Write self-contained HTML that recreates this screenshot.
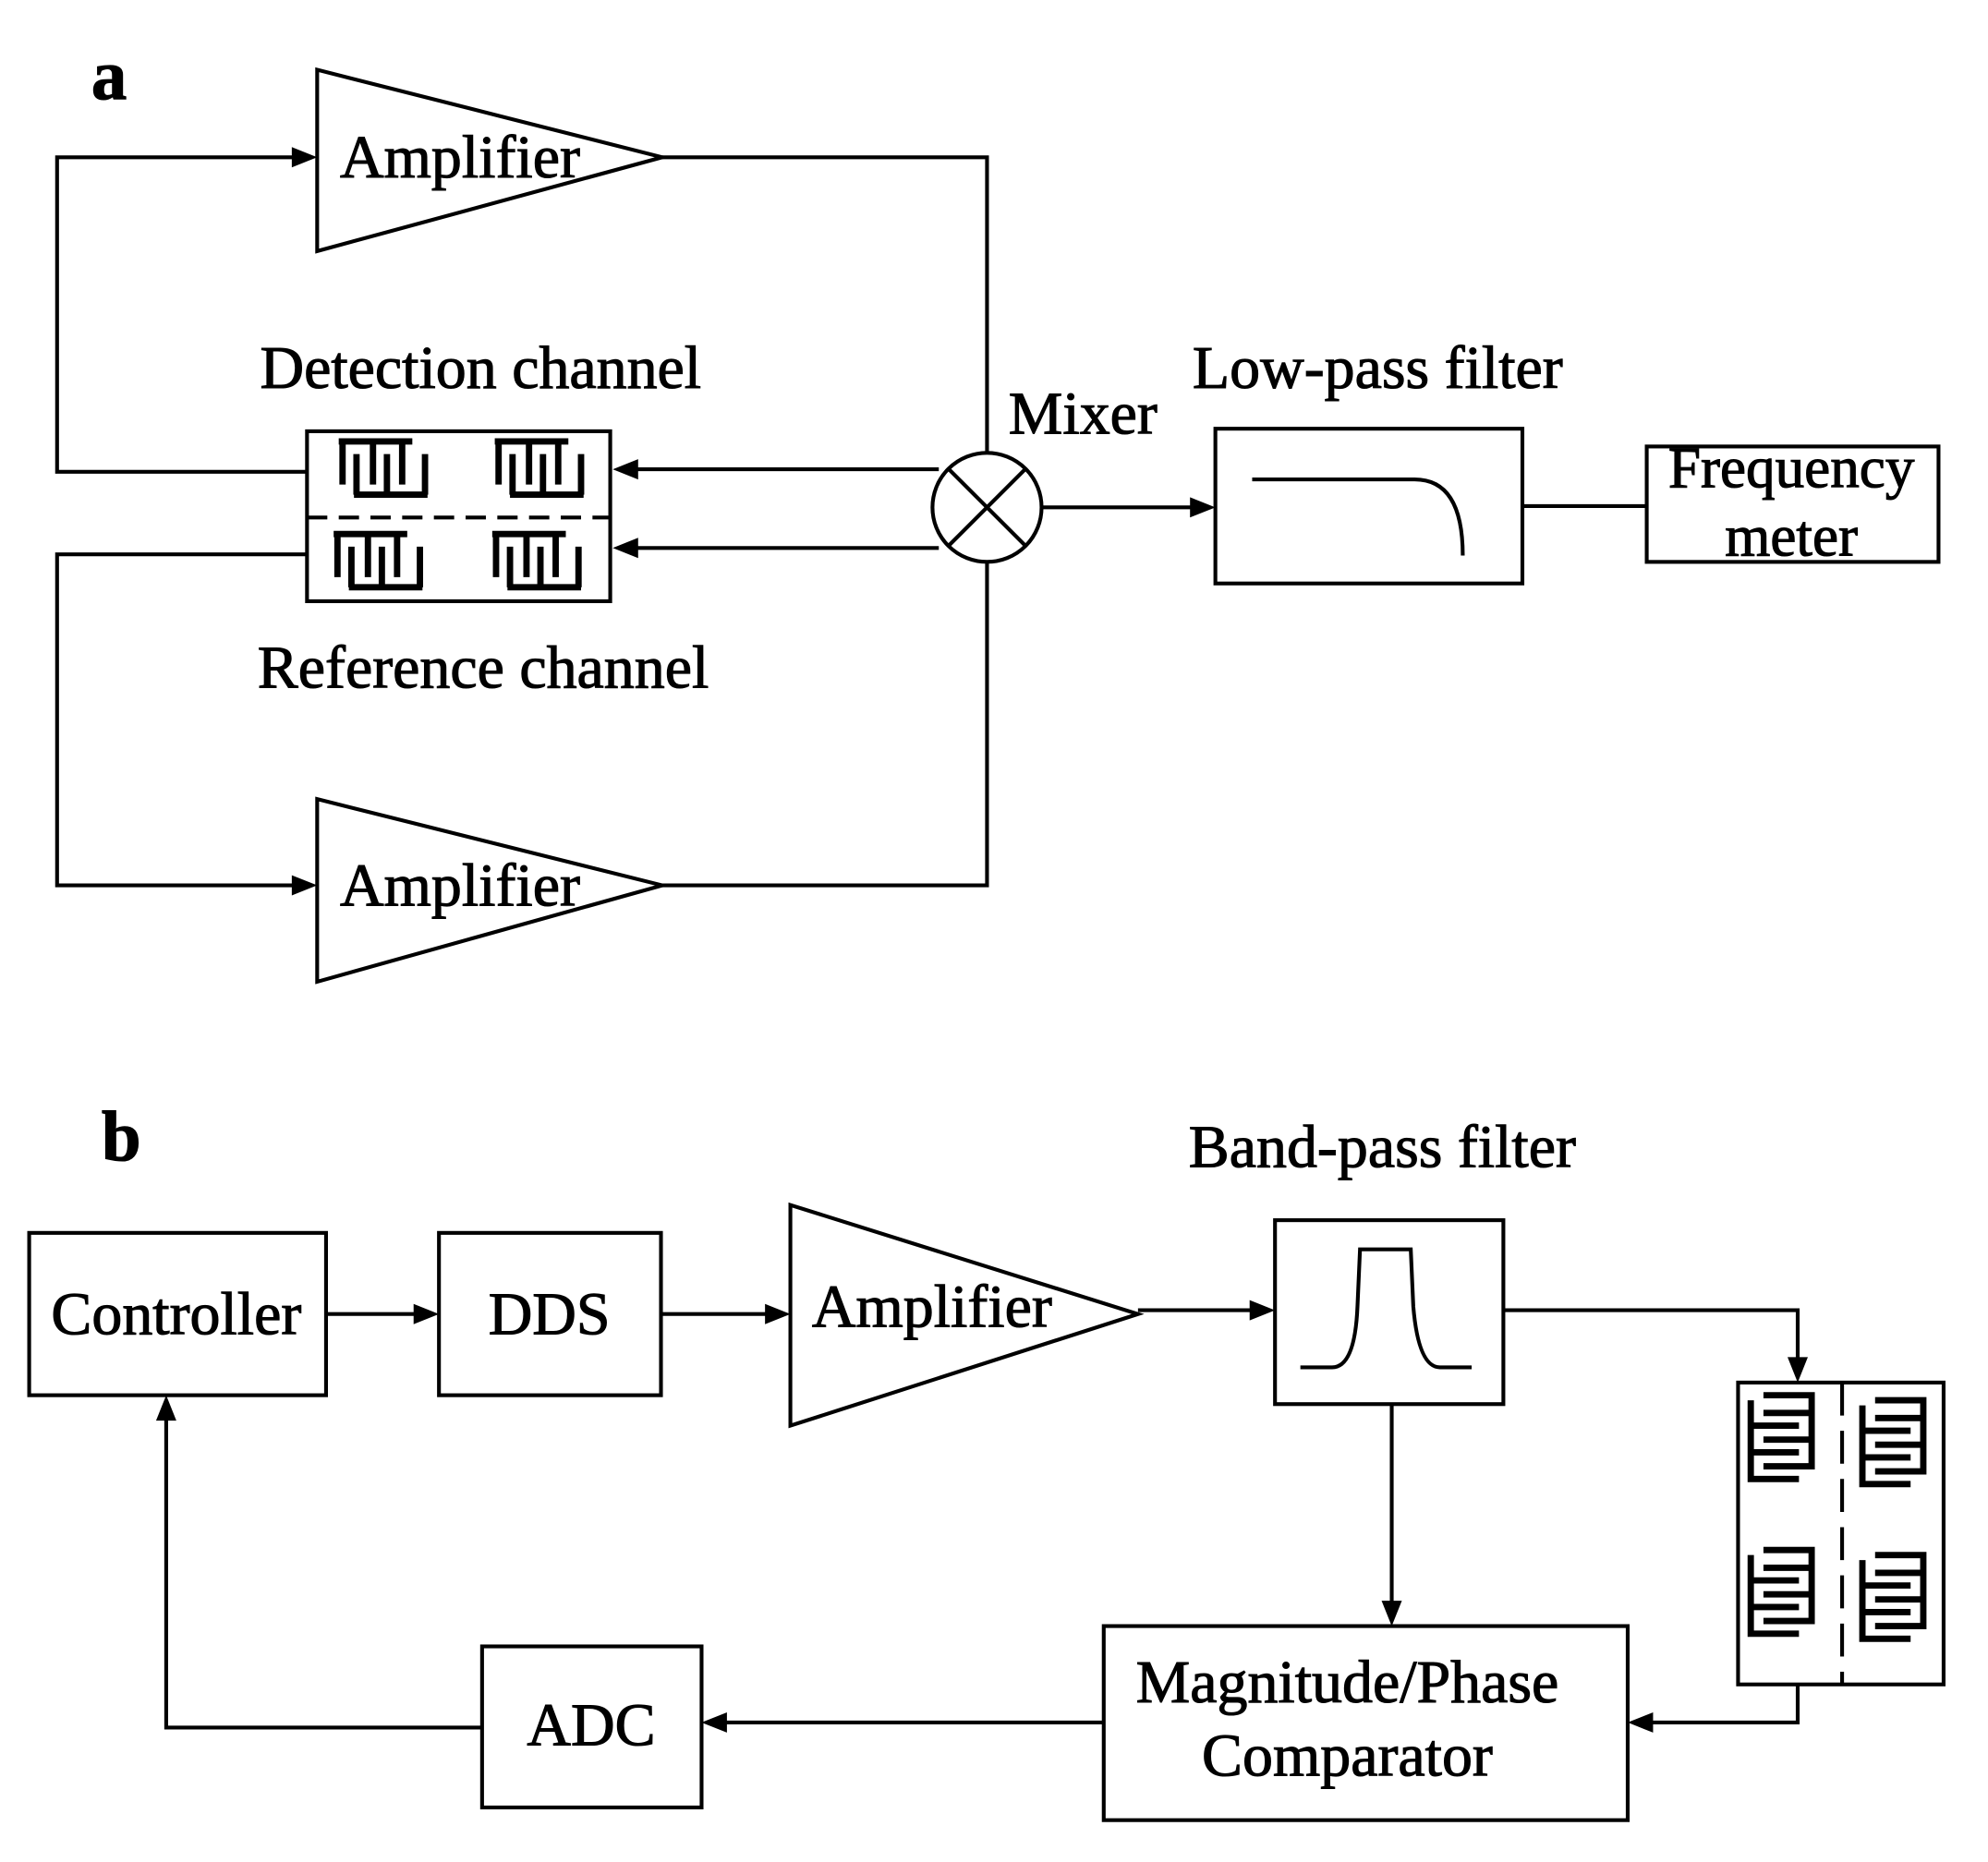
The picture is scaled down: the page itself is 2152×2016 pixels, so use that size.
<!DOCTYPE html>
<html><head><style>html,body{margin:0;padding:0;background:#fff}svg{display:block}</style></head>
<body>
<svg width="2152" height="2016" viewBox="0 0 1567 1468" preserveAspectRatio="none" xmlns="http://www.w3.org/2000/svg" font-family="Liberation Serif, serif">
<defs>
<g id="combA" fill="none" stroke="#000" stroke-width="5">
<path d="M0,0 H58 M3,0 V34 M27,0 V34 M50,0 V34 M12,42 H70 M14,42 V10 M38,42 V10 M68,42 V10"/>
</g>
<g id="combB" fill="none" stroke="#000" stroke-width="5">
<path d="M0,4 V66 H38 M0,24 H38 M0,45 H38 M10,0 H48 V56 H10 M10,14 H48 M10,35 H48"/>
</g>
</defs>
<g fill="none" stroke="#000" stroke-width="3">
<polygon points="250,55 250,198 522,124"/>
<polygon points="250,630 250,774 522,698"/>
<polyline points="522,124 778,124 778,357"/>
<polyline points="522,698 778,698 778,443"/>
<polyline points="242,372 45,372 45,124 236,124"/>
<polyline points="242,437 45,437 45,698 236,698"/>
<rect x="242" y="340" width="239" height="134"/>
<line x1="242" y1="408" x2="481" y2="408" stroke-dasharray="16,9"/>
<line x1="740" y1="370" x2="498" y2="370"/>
<line x1="740" y1="432" x2="498" y2="432"/>
<circle cx="778" cy="400" r="43"/>
<line x1="748" y1="370" x2="808" y2="430"/>
<line x1="808" y1="370" x2="748" y2="430"/>
<line x1="822" y1="400" x2="942" y2="400"/>
<rect x="958" y="338" width="242" height="122"/>
<path d="M987,378 H1115 Q1153,378 1153,438"/>
<line x1="1200" y1="399" x2="1298" y2="399"/>
<rect x="1298" y="352" width="230" height="91"/>
<rect x="23" y="972" width="234" height="128"/>
<rect x="346" y="972" width="175" height="128"/>
<polygon points="623,950 623,1124 897,1036"/>
<rect x="1005" y="962" width="180" height="145"/>
<path d="M1025,1078 H1050 Q1068,1078 1070,1030 L1072,985 H1112 L1114,1030 Q1118,1078 1135,1078 H1160"/>
<line x1="257" y1="1036" x2="330" y2="1036"/>
<line x1="521" y1="1036" x2="608" y2="1036"/>
<line x1="897" y1="1033" x2="990" y2="1033"/>
<polyline points="1185,1033 1417,1033 1417,1075"/>
<rect x="1370" y="1090" width="162" height="238"/>
<line x1="1452" y1="1090" x2="1452" y2="1328" stroke-dasharray="26,12"/>
<line x1="1097" y1="1107" x2="1097" y2="1267"/>
<rect x="870" y="1282" width="413" height="153"/>
<polyline points="1417,1328 1417,1358 1300,1358"/>
<line x1="870" y1="1358" x2="568" y2="1358"/>
<rect x="380" y="1298" width="173" height="127"/>
<polyline points="380,1362 131,1362 131,1115"/>
</g>
<g fill="#000">
<polygon points="250,124 230,116 230,132"/>
<polygon points="250,698 230,690 230,706"/>
<polygon points="483,370 503,362 503,378"/>
<polygon points="483,432 503,424 503,440"/>
<polygon points="958,400 938,392 938,408"/>
<polygon points="346,1036 326,1028 326,1044"/>
<polygon points="623,1036 603,1028 603,1044"/>
<polygon points="1005,1033 985,1025 985,1041"/>
<polygon points="1417,1090 1409,1070 1425,1070"/>
<polygon points="1097,1282 1089,1262 1105,1262"/>
<polygon points="1283,1358 1303,1350 1303,1366"/>
<polygon points="553,1358 573,1350 573,1366"/>
<polygon points="131,1100 123,1120 139,1120"/>
</g>
<use href="#combA" x="267" y="348"/>
<use href="#combA" x="390" y="348"/>
<use href="#combA" x="263" y="421"/>
<use href="#combA" x="388" y="421"/>
<use href="#combB" x="1380" y="1100"/>
<use href="#combB" x="1468" y="1104"/>
<use href="#combB" x="1380" y="1222"/>
<use href="#combB" x="1468" y="1226"/>
<g font-size="48" fill="#000" stroke="#000" stroke-width="0.8">
<text x="72" y="78" font-size="56" font-weight="bold">a</text>
<text x="80" y="915" font-size="56" font-weight="bold">b</text>
<text x="268" y="140">Amplifier</text>
<text x="268" y="714">Amplifier</text>
<text x="205" y="306">Detection channel</text>
<text x="203" y="542">Reference channel</text>
<text x="795" y="342">Mixer</text>
<text x="940" y="306">Low-pass filter</text>
<text x="1412" y="384" font-size="46" text-anchor="middle">Frequency</text>
<text x="1412" y="438" font-size="46" text-anchor="middle">meter</text>
<text x="139" y="1052" text-anchor="middle">Controller</text>
<text x="433" y="1052" text-anchor="middle">DDS</text>
<text x="640" y="1046">Amplifier</text>
<text x="937" y="920">Band-pass filter</text>
<text x="1062" y="1342" text-anchor="middle">Magnitude/Phase</text>
<text x="1062" y="1400" text-anchor="middle">Comparator</text>
<text x="466" y="1376" text-anchor="middle">ADC</text>
</g>
</svg>
</body></html>
